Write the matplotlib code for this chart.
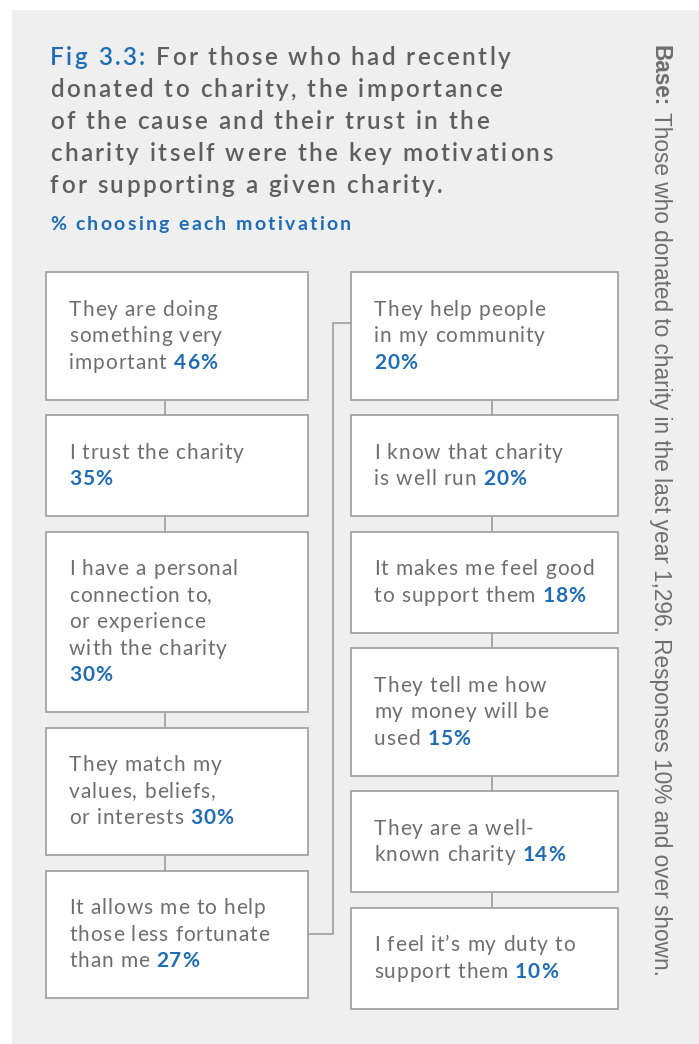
import matplotlib.pyplot as plt
from matplotlib.patches import Rectangle
from matplotlib.font_manager import FontProperties

# Texte und Werte
title_lead = "Fig 3.3:"
title_lines = ["For those who had recently",
               "donated to charity, the importance",
               "of the cause and their trust in the",
               "charity itself were the key motivations",
               "for supporting a given charity."]
subtitle = "% choosing each motivation"
base_bold = "Base:"
base_text = "Those who donated to charity in the last year 1,296. Responses 10% and over shown."

left_labels = ["They are doing\nsomething very\nimportant",
               "I trust the charity\n",
               "I have a personal\nconnection to,\nor experience\nwith the charity\n",
               "They match my\nvalues, beliefs,\nor interests",
               "It allows me to help\nthose less fortunate\nthan me"]
left_values = [46, 35, 30, 30, 27]

right_labels = ["They help people\nin my community\n",
                "I know that charity\nis well run",
                "It makes me feel good\nto support them",
                "They tell me how\nmy money will be\nused",
                "They are a well-\nknown charity",
                "I feel it\u2019s my duty to\nsupport them"]
right_values = [20, 20, 18, 15, 14, 10]

blue = "#1f6db6"
gray = "#6e6e6e"
dark = "#5e5e5e"
edge = "#a3a3a3"
font = "Lato"

fig = plt.figure(figsize=(6.99, 10.44), dpi=100)
ax = fig.add_axes([0, 0, 1, 1])
ax.set_xlim(0, 699)
ax.set_ylim(1044, 0)
ax.axis("off")
r = fig.canvas.get_renderer()

# grauer Hintergrund
ax.add_patch(Rectangle((12, 10), 700, 1040, fc="#efefef", ec="none"))

# Zeichenbreiten (Avenir ist breiter gesperrt als Lato -> Zeichen einzeln setzen)
_adv = {}


def advance(ch, size, weight):
    key = (ch, size, weight)
    if key not in _adv:
        fp = FontProperties(family=font, size=size, weight=weight)
        w1 = r.get_text_width_height_descent("l" + ch + "l", fp, ismath=False)[0]
        w0 = r.get_text_width_height_descent("ll", fp, ismath=False)[0]
        _adv[key] = w1 - w0
    return _adv[key]


def tracked(x, y, s, size, weight, color, track):
    for ch in s:
        if ch != " ":
            ax.text(x, y, ch, fontsize=size, weight=weight, color=color,
                    family=font, va="baseline", ha="left")
        x += advance(ch, size, weight) + track
    return x


# Titel
ts, tt = 17.5, 2.4
x = tracked(50, 65, title_lead + " ", ts, "semibold", blue, tt)
tracked(x, 65, title_lines[0], ts, "semibold", dark, tt)
for i, line in enumerate(title_lines[1:]):
    tracked(50, 97 + i * 32, line, ts, "semibold", dark, tt)
tracked(50, 230, subtitle, 14, "bold", blue, 2.3)

line_h = 26.5
bs, bt = 15, 0.9


def draw_column(labels, values, x0, x1, top, link_x):
    spans = []
    y = top
    for label, val in zip(labels, values):
        lines = label.split("\n")
        h = 48 + line_h * len(lines)
        ax.add_patch(Rectangle((x0, y), x1 - x0, h, fc="white", ec=edge, lw=1.3))
        ty = y + h / 2 - line_h * (len(lines) - 1) / 2 + 6.5
        for i, line in enumerate(lines):
            ly = ty + i * line_h
            xe = tracked(x0 + 23, ly, line, bs, "normal", gray, bt)
            if i == len(lines) - 1:
                if line:
                    xe += advance(" ", bs, "normal") + bt
                tracked(xe, ly, f"{val}%", bs, "bold", blue, bt)
        if spans:
            ax.plot([link_x, link_x], [spans[-1][1], y], color=edge, lw=1.3)
        spans.append((y, y + h))
        y += h + 15.5
    return spans


left_spans = draw_column(left_labels, left_values, 46, 308, 272, 165)
right_spans = draw_column(right_labels, right_values, 351, 618, 272, 492)

# Verbindung zwischen den Spalten
yl = (left_spans[-1][0] + left_spans[-1][1]) / 2
yr = right_spans[0][0] + 51
ax.plot([308, 333, 333, 351], [yl, yl, yr, yr], color=edge, lw=1.3)

# gedrehter Basistext
b = ax.text(660, 45, base_bold, rotation=-90, color=gray, fontsize=16.3,
            family="Liberation Sans", weight="bold", ha="center", va="top")
bb = b.get_window_extent(r).transformed(ax.transData.inverted())
ax.text(660, max(bb.y0, bb.y1) + 6, base_text, rotation=-90, color=gray,
        fontsize=16.3, family="Liberation Sans", ha="center", va="top")

fig.savefig("out.png", dpi=100, facecolor="white")
